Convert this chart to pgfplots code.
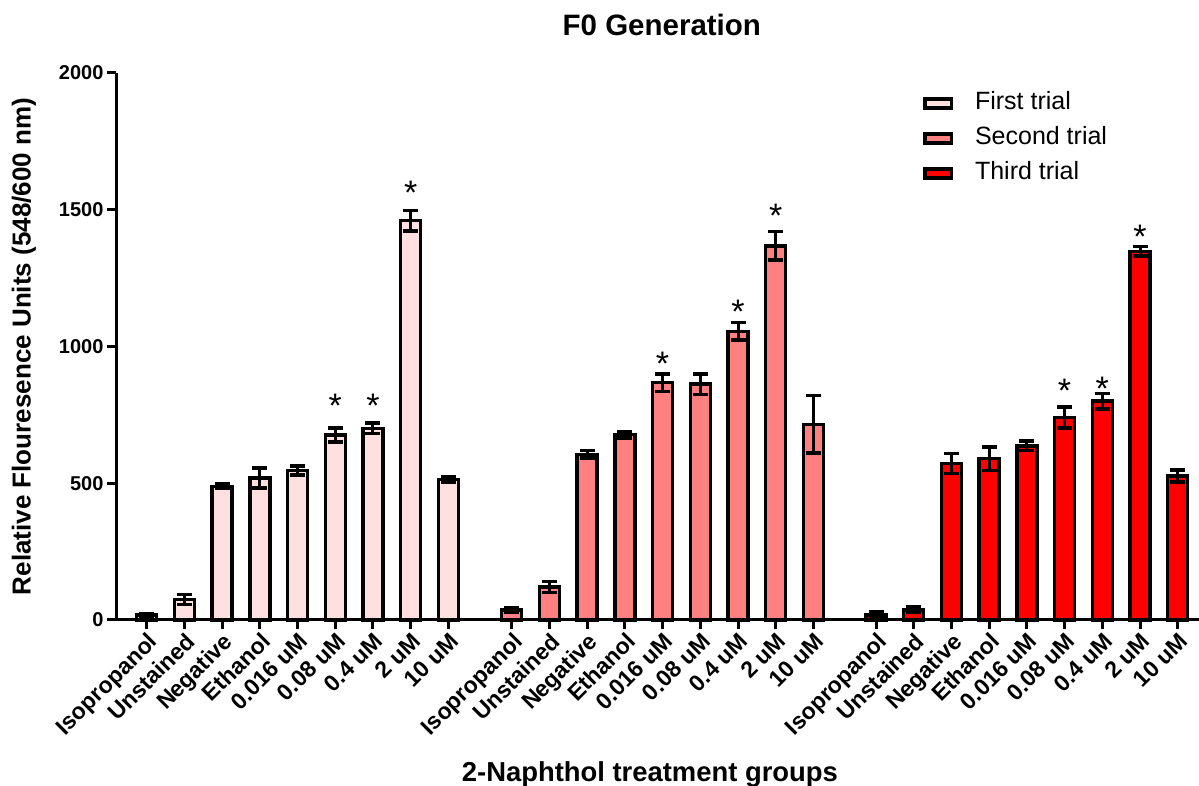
\documentclass[border=0pt]{standalone}
\usepackage{fontspec}
\setmainfont{Liberation Sans}
\usepackage{pgfplots}
\usepackage{pgfplotstable}
\pgfplotsset{compat=1.18}
\definecolor{c1}{RGB}{255,224,224}
\definecolor{c2}{RGB}{255,128,128}
\definecolor{c3}{RGB}{255,0,0}

\pgfplotstableread{
x y e
0 18 6
1 75 18
2 489 8
3 519 37
4 547 16
5 676 26
6 701 20
7 1460 37
8 514 9
}\first
\pgfplotstableread{
x y e
9.68 36 8
10.68 120 20
11.68 606 14
12.68 678 12
13.68 868 32
14.68 862 38
15.68 1055 32
16.68 1368 52
17.68 715 105
}\second
\pgfplotstableread{
x y e
19.34 18 12
20.34 37 10
21.34 572 36
22.34 590 43
23.34 637 18
24.34 740 38
25.34 800 28
26.34 1348 18
27.34 526 22
}\third
\pgfplotstableread{
x y
5 810
6 810
7 1590
13.68 963
15.68 1155
16.68 1505
24.34 863
25.34 871
26.34 1426
}\stars

\pgfplotsset{
  mybar/.style={ybar, bar width=20pt, bar shift=0pt, draw=black, line width=3.5pt, fill=#1,
    legend image code/.code={\draw[fill=#1, draw=black, line width=3.5pt] (0pt,-4.5pt) rectangle (26.5pt,4.5pt);},
    error bars/.cd, y dir=both, y explicit,
    error bar style={line width=3pt, black},
    error mark options={rotate=90, mark size=7.5pt, line width=3.5pt, black}},
}

\begin{document}
\begin{tikzpicture}
\useasboundingbox (0,0) rectangle (1199pt,786pt);
\begin{axis}[
  at={(116pt,166pt)}, anchor=south west,
  scale only axis, width=1083pt, height=547pt,
  xmin=-0.814, xmax=27.905, ymin=0, ymax=2000,
  axis lines=left, axis line style={-, line width=3pt},
  clip=false,
  ytick={0,500,1000,1500,2000},
  yticklabels={0,500,1000,1500,2000},
  xtick={0,1,2,3,4,5,6,7,8,9.68,10.68,11.68,12.68,13.68,14.68,15.68,16.68,17.68,19.34,20.34,21.34,22.34,23.34,24.34,25.34,26.34,27.34},
  xticklabels={Isopropanol,Unstained,Negative,Ethanol,0.016 uM,0.08 uM,0.4 uM,2 uM,10 uM,
               Isopropanol,Unstained,Negative,Ethanol,0.016 uM,0.08 uM,0.4 uM,2 uM,10 uM,
               Isopropanol,Unstained,Negative,Ethanol,0.016 uM,0.08 uM,0.4 uM,2 uM,10 uM},
  tick align=outside, major tick length=9pt,
  tick style={black, line width=3pt},
  y tick label style={font=\fontsize{20}{24}\selectfont\bfseries},
  x tick label style={font=\fontsize{23}{27}\selectfont\bfseries, rotate=45, anchor=north east, inner sep=1.5pt},
  title={F0 Generation},
  title style={at={(axis description cs:0.504,1.077)}, anchor=center, font=\fontsize{29.5}{34}\selectfont\bfseries},
  xlabel={2-Naphthol treatment groups},
  xlabel style={at={(axis description cs:0.493,-0.2945)}, anchor=base, font=\fontsize{27.4}{31}\selectfont\bfseries},
  ylabel={Relative Flouresence Units (548/600 nm)},
  ylabel style={at={(axis description cs:-0.085,0.5)}, anchor=center, rotate=0, font=\fontsize{26}{30}\selectfont\bfseries},
  legend style={at={(axis description cs:0.745,0.965)}, anchor=north west, draw=none, fill=none,
    font=\fontsize{25}{29}\selectfont, inner sep=0pt, row sep=13pt,
    nodes={inner sep=0pt, text height=17pt, text depth=5pt},
    /tikz/every odd column/.append style={column sep=22pt}},
  legend cell align=left,
]
\addplot[mybar=c1] table[x=x, y=y, y error=e] {\first};
\addlegendentry{First trial}
\addplot[mybar=c2] table[x=x, y=y, y error=e] {\second};
\addlegendentry{Second trial}
\addplot[mybar=c3] table[x=x, y=y, y error=e] {\third};
\addlegendentry{Third trial}
\addplot[forget plot, draw=none, mark=none, nodes near coords={*},
  nodes near coords style={anchor=base, yshift=-19pt, font=\fontsize{34}{34}\selectfont, inner sep=0pt}]
  table[x=x, y=y] {\stars};
\end{axis}
\end{tikzpicture}
\end{document}
